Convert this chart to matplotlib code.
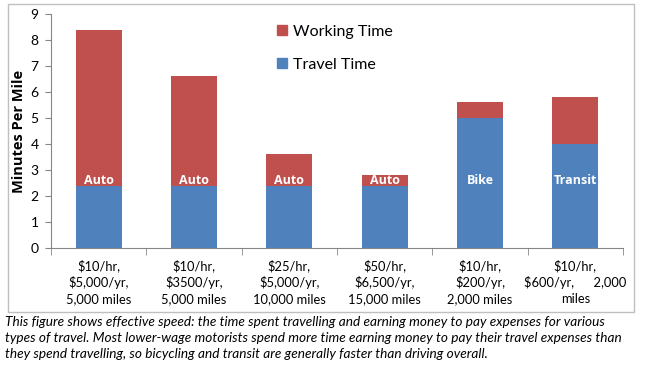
import matplotlib
matplotlib.use('Agg')
import matplotlib.pyplot as plt
from matplotlib.patches import Rectangle, Patch
import numpy as np

plt.rcParams['font.family'] = ['Lato', 'DejaVu Sans']

# data
categories = [
    "$10/hr,\n$5,000/yr,\n5,000 miles",
    "$10/hr,\n$3500/yr,\n5,000 miles",
    "$25/hr,\n$5,000/yr,\n10,000 miles",
    "$50/hr,\n$6,500/yr,\n15,000 miles",
    "$10/hr,\n$200/yr,\n2,000 miles",
    "$10/hr,\n$600/yr,      2,000\nmiles",
]
modes = ["Auto", "Auto", "Auto", "Auto", "Bike", "Transit"]
travel_time = [2.4, 2.4, 2.4, 2.4, 5.0, 4.0]
working_time = [6.0, 4.2, 1.2, 0.4, 0.6, 1.8]

blue = '#4F81BD'
red = '#C0504D'
bold_font = ['Open Sans', 'DejaVu Sans']

W, H = 645, 371
fig = plt.figure(figsize=(W / 100, H / 100), dpi=100)

# outer chart frame
fig.patches.append(Rectangle((8 / W, 1 - 312 / H), 626 / W, 308 / H,
                             transform=fig.transFigure, fill=False,
                             edgecolor='#BFBFBF', linewidth=1))

ax = fig.add_axes([51 / W, 123 / H, 572 / W, 234 / H])
x = np.arange(len(categories))
ax.bar(x, travel_time, width=0.48, color=blue, label='Travel Time')
ax.bar(x, working_time, width=0.48, bottom=travel_time, color=red,
       label='Working Time')

for xi, m in zip(x, modes):
    ax.text(xi, 2.6, m, color='white', fontweight='bold', fontsize=9,
            family=bold_font, ha='center', va='center')

ax.set_xlim(-0.5, len(categories) - 0.5)
ax.set_ylim(0, 9)
ax.set_yticks(range(10))
ax.set_xticks(x)
ax.set_xticklabels(categories, fontsize=9.3, linespacing=1.4)
ax.set_xticks(np.arange(-0.5, len(categories)), minor=True)
ax.tick_params(axis='x', which='major', length=0, pad=8)
ax.tick_params(axis='x', which='minor', length=5, color='#868686')
ax.tick_params(axis='y', length=4, color='#868686', labelsize=10, pad=5)
for s in ['top', 'right']:
    ax.spines[s].set_visible(False)
for s in ['left', 'bottom']:
    ax.spines[s].set_color('#868686')
ax.set_ylabel('Minutes Per Mile', fontsize=10.5, fontweight='bold',
              family=bold_font, labelpad=3)

handles = [Patch(color=red), Patch(color=blue)]
ax.legend(handles, ['Working Time', 'Travel Time'], frameon=False,
          fontsize=11.5, loc='upper left', bbox_to_anchor=(0.37, 1.015),
          handlelength=0.6, handleheight=0.6, handletextpad=0.4,
          labelspacing=1.2)

caption = ("This figure shows effective speed: the time spent travelling and earning money to pay expenses for various\n"
           "types of travel. Most lower-wage motorists spend more time earning money to pay their travel expenses than\n"
           "they spend travelling, so bicycling and transit are generally faster than driving overall.")
fig.text(5 / W, 1 - 316 / H, caption, fontsize=9.8, style='italic',
         va='top', ha='left', linespacing=1.42)

fig.savefig('out.png', dpi=100)
